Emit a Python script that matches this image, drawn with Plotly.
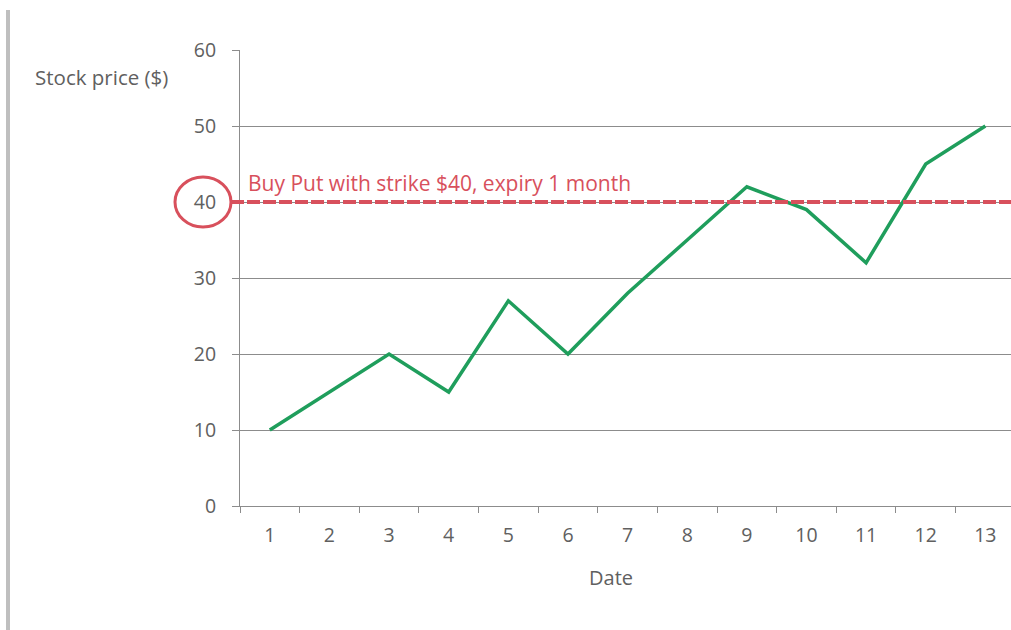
import plotly.graph_objects as go

# Daily closing prices
dates = [str(d) for d in range(1, 14)]
prices = [10, 15, 20, 15, 27, 20, 28, 35, 42, 39, 32, 45, 50]

strike = 40
put_label = "Buy Put with strike $40, expiry 1 month"
y_ticks = [0, 10, 20, 30, 40, 50, 60]

W, H = 1011, 630
ML, MR, MT, MB = 240, 0, 50, 124
plot_w = W - ML - MR

def px_to_paper_x(px):
    return (px - ML) / plot_w

def px_to_paper_y(py):
    return 1 - (py - MT) / (H - MT - MB)

red = "#d8505c"
gray_text = "#606060"
grid = "#8c8c8c"
font = "Open Sans"

fig = go.Figure()
fig.add_trace(go.Scatter(
    x=dates, y=prices, mode="lines",
    line=dict(color="#1f9e5c", width=3.5),
    hoverinfo="skip", showlegend=False,
))

fig.update_layout(
    width=W, height=H,
    margin=dict(l=ML, r=MR, t=MT, b=MB, pad=0),
    paper_bgcolor="white", plot_bgcolor="white",
    font=dict(family=font, size=19, color=gray_text),
    xaxis=dict(
        type="category", range=[-0.5, 12.43],
        tickson="boundaries", ticks="outside", ticklen=6, tickcolor=grid,
        showgrid=False, showline=True, linecolor=grid, linewidth=1,
        zeroline=False, tickfont=dict(size=19.5, color=gray_text),
        ticklabelstandoff=12,
    ),
    yaxis=dict(
        range=[0, 60], tickvals=y_ticks, ticks="outside", ticklen=7,
        tickcolor=grid, showgrid=True, gridcolor=grid, gridwidth=1,
        showline=True, linecolor=grid, linewidth=1, zeroline=False,
        tickfont=dict(size=19.5, color=gray_text), ticklabelstandoff=12,
    ),
)

# strike level marker line
fig.add_shape(type="line", xref="paper", yref="y",
              x0=px_to_paper_x(231), x1=1, y0=strike, y1=strike,
              line=dict(color=red, width=4, dash="13px,3px"))

# circle around the strike tick
fig.add_shape(type="circle", xref="paper", yref="y",
              x0=px_to_paper_x(175), x1=px_to_paper_x(231),
              y0=strike - 3.3, y1=strike + 3.3,
              line=dict(color=red, width=3))

fig.add_annotation(text=put_label, xref="paper", yref="y",
                   x=px_to_paper_x(246), y=strike + 2.5,
                   xanchor="left", yanchor="middle", showarrow=False,
                   font=dict(family=font, size=21, color=red))

fig.add_annotation(text="Stock price ($)", xref="paper", yref="paper",
                   x=px_to_paper_x(33), y=px_to_paper_y(77),
                   xanchor="left", yanchor="middle", showarrow=False,
                   font=dict(family=font, size=20.5, color=gray_text))

fig.add_annotation(text="Date", xref="paper", yref="paper",
                   x=px_to_paper_x(611), y=px_to_paper_y(577),
                   xanchor="center", yanchor="middle", showarrow=False,
                   font=dict(family=font, size=20, color=gray_text))

# grey rule at the left edge of the page
fig.add_shape(type="rect", xref="paper", yref="paper",
              x0=px_to_paper_x(6), x1=px_to_paper_x(10),
              y0=px_to_paper_y(630), y1=px_to_paper_y(10),
              fillcolor="#bfbfbf", line=dict(width=0), layer="above")

fig.write_html("out.html")
